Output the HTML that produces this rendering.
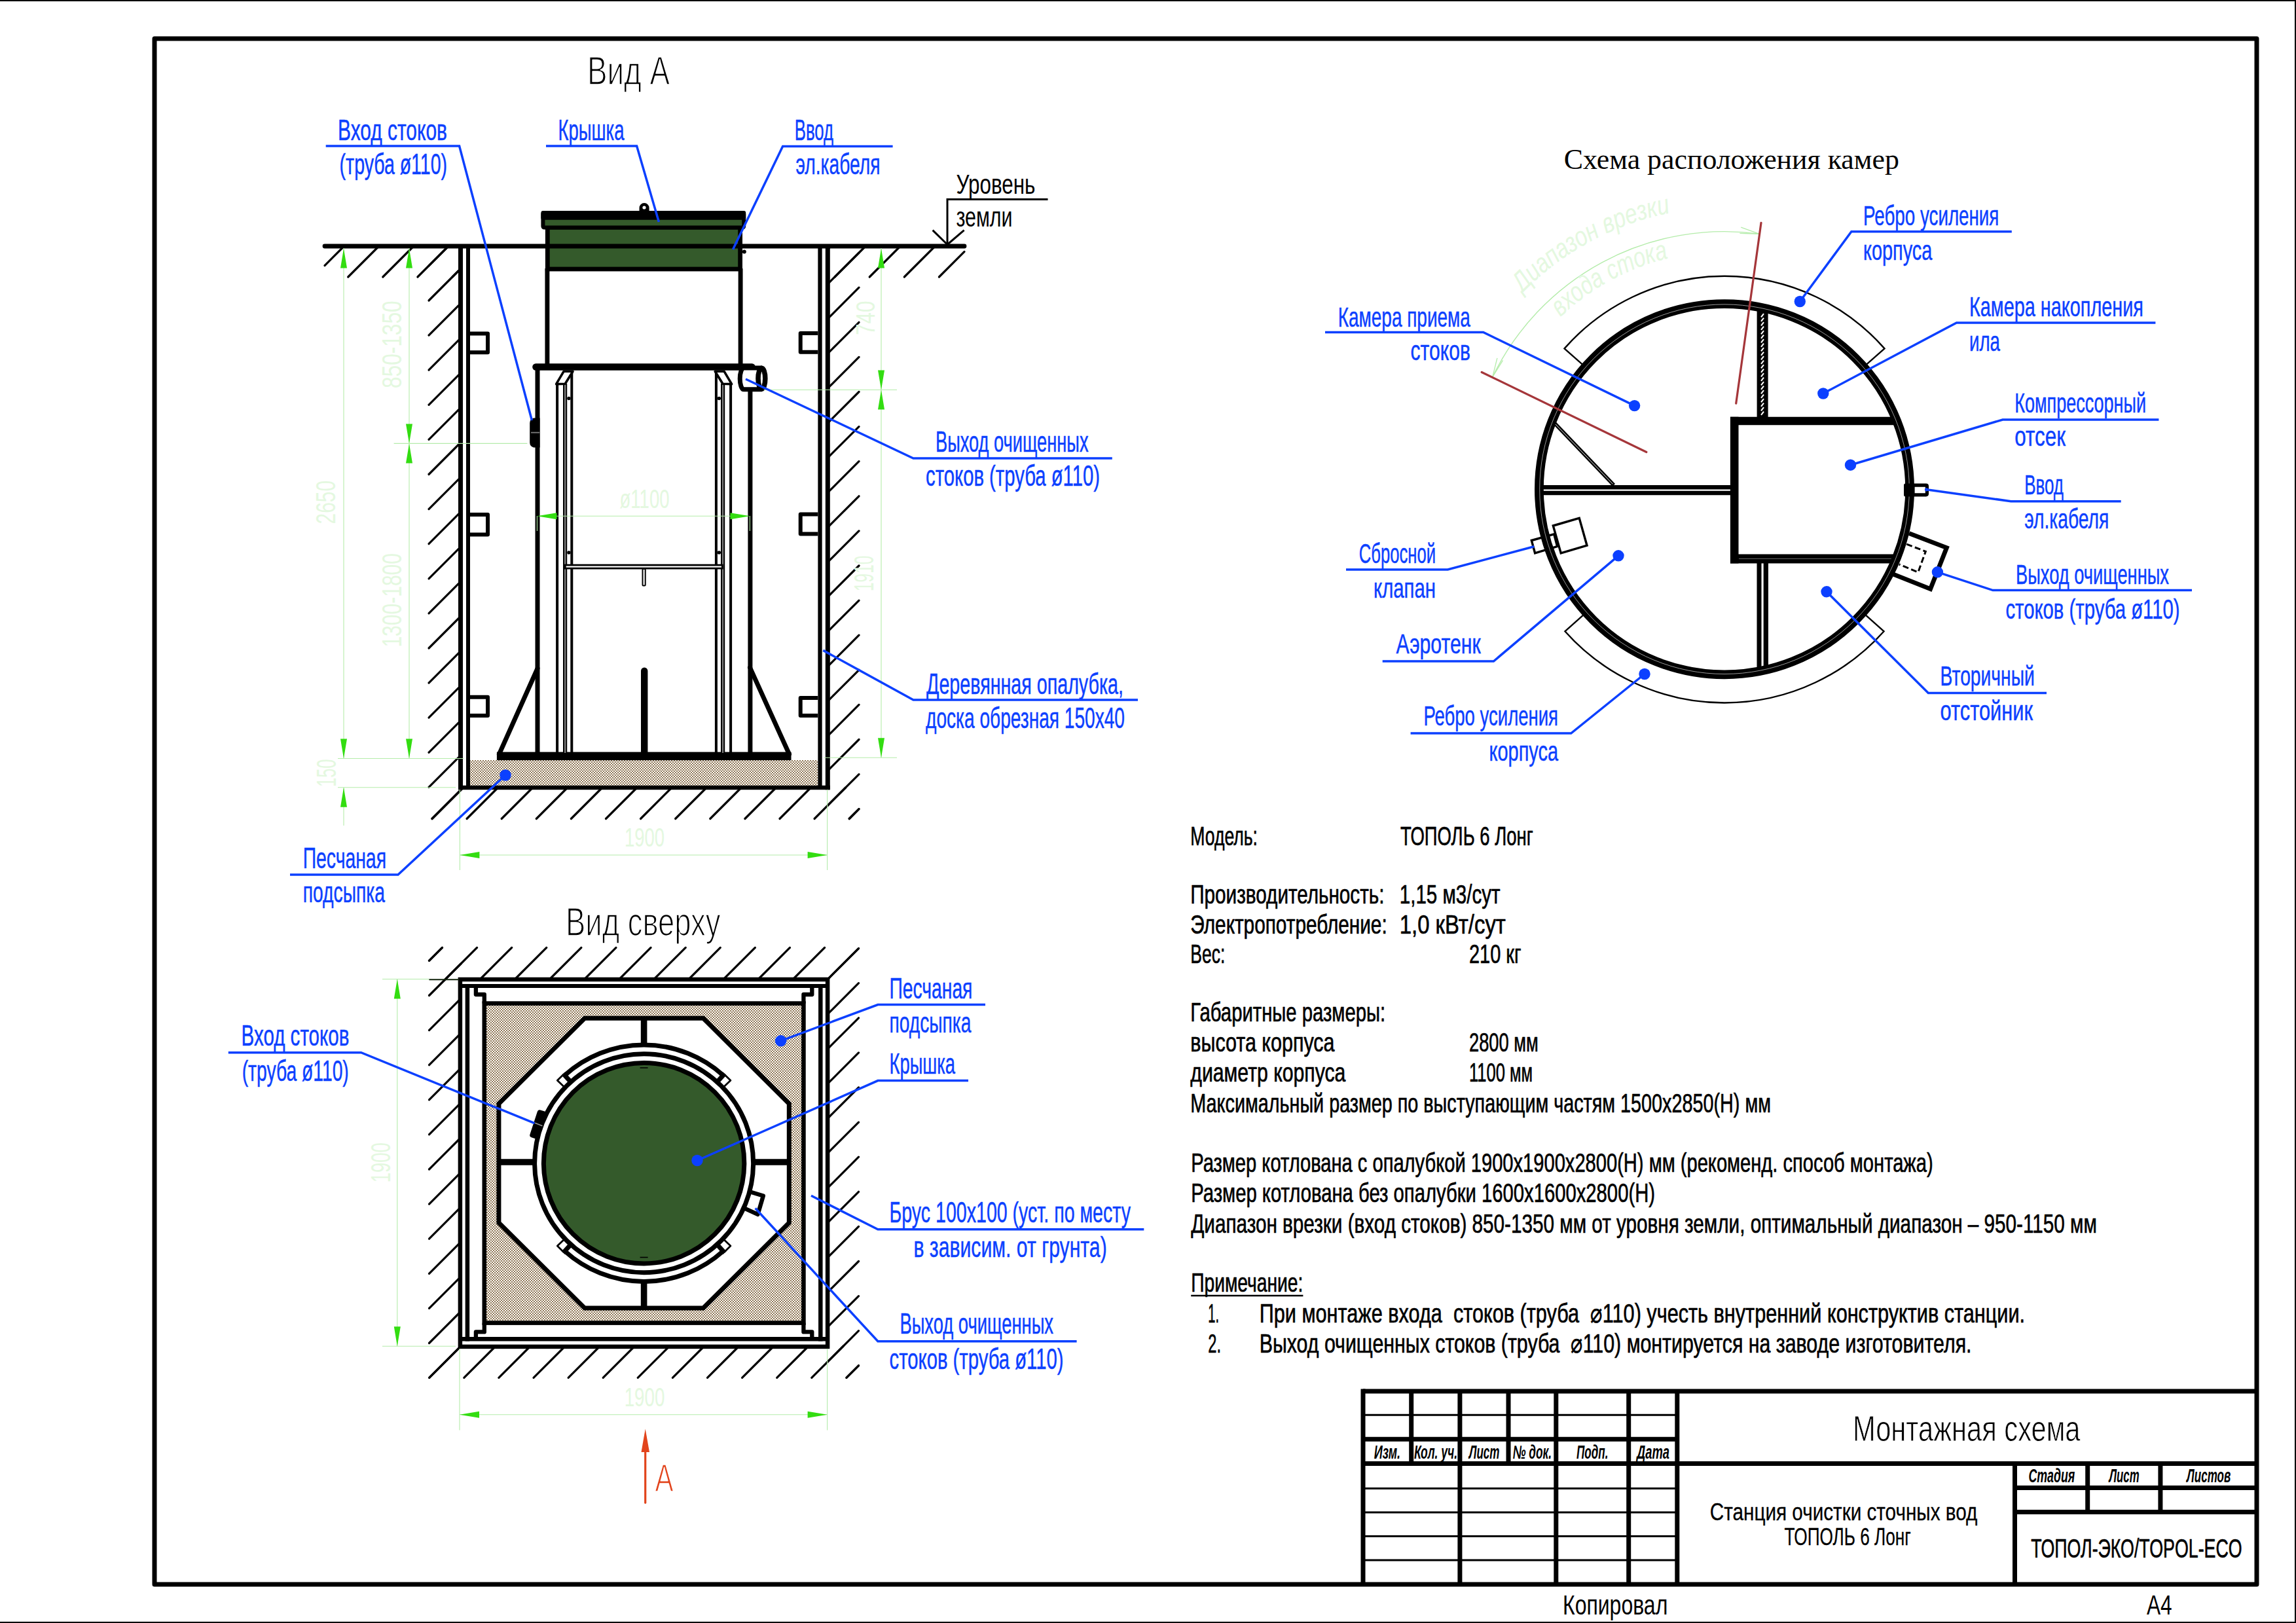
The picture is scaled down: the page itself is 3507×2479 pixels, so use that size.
<!DOCTYPE html>
<html><head><meta charset="utf-8"><title>Монтажная схема</title>
<style>
html,body{margin:0;padding:0;background:#fff;}
body{width:3507px;height:2479px;overflow:hidden;font-family:"Liberation Sans",sans-serif;}
svg{display:block;}
text{white-space:pre;}
</style></head><body>
<svg width="3507" height="2479" viewBox="0 0 3507 2479">
<defs>
<pattern id="sand" width="4" height="4" patternUnits="userSpaceOnUse">
<rect width="4" height="4" fill="#fff"/>
<circle cx="0" cy="0" r="1.1" fill="#77592f"/><circle cx="4" cy="0" r="1.1" fill="#77592f"/><circle cx="0" cy="4" r="1.1" fill="#77592f"/><circle cx="4" cy="4" r="1.1" fill="#77592f"/><circle cx="2" cy="2" r="1.1" fill="#77592f"/>
</pattern>
</defs>
<rect x="-5.0" y="0.0" width="3512.0" height="2.0" stroke="none" stroke-width="0" fill="#000" />
<rect x="3505.0" y="0.0" width="2.0" height="2479.0" stroke="none" stroke-width="0" fill="#000" />
<rect x="-5.0" y="2477.0" width="3512.0" height="2.0" stroke="none" stroke-width="0" fill="#000" />
<rect x="236.0" y="59.0" width="3211.0" height="2361.0" stroke="#000" stroke-width="7" fill="none" stroke-linejoin="round"/>
<line x1="2082.0" y1="2125.0" x2="3447.0" y2="2125.0" stroke="#000" stroke-width="7" stroke-linecap="butt" />
<line x1="2082.0" y1="2121.5" x2="2082.0" y2="2420.0" stroke="#000" stroke-width="7" stroke-linecap="butt" />
<line x1="2155.7" y1="2125.0" x2="2155.7" y2="2238.9" stroke="#000" stroke-width="7" stroke-linecap="butt" />
<line x1="2229.9" y1="2125.0" x2="2229.9" y2="2420.0" stroke="#000" stroke-width="7" stroke-linecap="butt" />
<line x1="2304.0" y1="2125.0" x2="2304.0" y2="2238.9" stroke="#000" stroke-width="7" stroke-linecap="butt" />
<line x1="2376.8" y1="2125.0" x2="2376.8" y2="2420.0" stroke="#000" stroke-width="7" stroke-linecap="butt" />
<line x1="2487.7" y1="2125.0" x2="2487.7" y2="2420.0" stroke="#000" stroke-width="7" stroke-linecap="butt" />
<line x1="2561.8" y1="2125.0" x2="2561.8" y2="2420.0" stroke="#000" stroke-width="7" stroke-linecap="butt" />
<line x1="2082.0" y1="2161.2" x2="2561.8" y2="2161.2" stroke="#000" stroke-width="3" stroke-linecap="butt" />
<line x1="2082.0" y1="2198.3" x2="2561.8" y2="2198.3" stroke="#000" stroke-width="7" stroke-linecap="butt" />
<line x1="2082.0" y1="2235.4" x2="3447.0" y2="2235.4" stroke="#000" stroke-width="7" stroke-linecap="butt" />
<line x1="2082.0" y1="2273.4" x2="2561.8" y2="2273.4" stroke="#000" stroke-width="3" stroke-linecap="butt" />
<line x1="2082.0" y1="2310.1" x2="2561.8" y2="2310.1" stroke="#000" stroke-width="3" stroke-linecap="butt" />
<line x1="2082.0" y1="2346.6" x2="2561.8" y2="2346.6" stroke="#000" stroke-width="3" stroke-linecap="butt" />
<line x1="2082.0" y1="2383.0" x2="2561.8" y2="2383.0" stroke="#000" stroke-width="3" stroke-linecap="butt" />
<line x1="3077.5" y1="2235.4" x2="3077.5" y2="2420.0" stroke="#000" stroke-width="7" stroke-linecap="butt" />
<line x1="3077.5" y1="2272.4" x2="3447.0" y2="2272.4" stroke="#000" stroke-width="7" stroke-linecap="butt" />
<line x1="3077.5" y1="2309.5" x2="3447.0" y2="2309.5" stroke="#000" stroke-width="7" stroke-linecap="butt" />
<line x1="3188.7" y1="2235.4" x2="3188.7" y2="2309.5" stroke="#000" stroke-width="7" stroke-linecap="butt" />
<line x1="3299.9" y1="2235.4" x2="3299.9" y2="2309.5" stroke="#000" stroke-width="7" stroke-linecap="butt" />
<text x="2098.7" y="2228.3" font-family="Liberation Sans" font-size="28.6" font-weight="bold" font-style="italic" fill="#000" textLength="40.3" lengthAdjust="spacingAndGlyphs" >Изм.</text>
<text x="2160.0" y="2228.3" font-family="Liberation Sans" font-size="28.6" font-weight="bold" font-style="italic" fill="#000" textLength="66.0" lengthAdjust="spacingAndGlyphs" >Кол. уч.</text>
<text x="2243.7" y="2228.3" font-family="Liberation Sans" font-size="28.6" font-weight="bold" font-style="italic" fill="#000" textLength="46.7" lengthAdjust="spacingAndGlyphs" >Лист</text>
<text x="2310.7" y="2228.3" font-family="Liberation Sans" font-size="28.6" font-weight="bold" font-style="italic" fill="#000" textLength="59.3" lengthAdjust="spacingAndGlyphs" >№ док.</text>
<text x="2408.0" y="2228.3" font-family="Liberation Sans" font-size="28.6" font-weight="bold" font-style="italic" fill="#000" textLength="48.4" lengthAdjust="spacingAndGlyphs" >Подп.</text>
<text x="2500.0" y="2228.3" font-family="Liberation Sans" font-size="28.6" font-weight="bold" font-style="italic" fill="#000" textLength="50.0" lengthAdjust="spacingAndGlyphs" >Дата</text>
<text x="3098.4" y="2264.4" font-family="Liberation Sans" font-size="28.6" font-weight="bold" font-style="italic" fill="#000" textLength="70.9" lengthAdjust="spacingAndGlyphs" >Стадия</text>
<text x="3221.5" y="2264.4" font-family="Liberation Sans" font-size="28.6" font-weight="bold" font-style="italic" fill="#000" textLength="46.1" lengthAdjust="spacingAndGlyphs" >Лист</text>
<text x="3340.1" y="2264.4" font-family="Liberation Sans" font-size="28.6" font-weight="bold" font-style="italic" fill="#000" textLength="67.1" lengthAdjust="spacingAndGlyphs" >Листов</text>
<text x="2830.0" y="2200.6" font-family="Liberation Sans" font-size="55.6" font-weight="normal" font-style="normal" fill="#000" stroke="#fff" stroke-width="0.9" stroke-linejoin="round" textLength="347.5" lengthAdjust="spacingAndGlyphs" >Монтажная схема</text>
<text x="2611.8" y="2322.4" font-family="Liberation Sans" font-size="36.3" font-weight="normal" font-style="normal" fill="#000" stroke="#000" stroke-width="0.3" stroke-linejoin="round" textLength="408.6" lengthAdjust="spacingAndGlyphs" >Станция очистки сточных вод</text>
<text x="2725.5" y="2360.4" font-family="Liberation Sans" font-size="36.3" font-weight="normal" font-style="normal" fill="#000" stroke="#000" stroke-width="0.3" stroke-linejoin="round" textLength="193.4" lengthAdjust="spacingAndGlyphs" >ТОПОЛЬ 6 Лонг</text>
<text x="3102.3" y="2378.8" font-family="Liberation Sans" font-size="40.5" font-weight="normal" font-style="normal" fill="#000" stroke="#000" stroke-width="0.7" stroke-linejoin="round" textLength="322.3" lengthAdjust="spacingAndGlyphs" >ТОПОЛ-ЭКО/TOPOL-ECO</text>
<text x="2387.0" y="2465.8" font-family="Liberation Sans" font-size="42.7" font-weight="normal" font-style="normal" fill="#000" textLength="160.3" lengthAdjust="spacingAndGlyphs" >Копировал</text>
<text x="3278.9" y="2465.8" font-family="Liberation Sans" font-size="42.7" font-weight="normal" font-style="normal" fill="#000" textLength="38.7" lengthAdjust="spacingAndGlyphs" >А4</text>
<text x="1818.3" y="1291.0" font-family="Liberation Sans" font-size="41.2" font-weight="normal" font-style="normal" fill="#000" stroke="#000" stroke-width="0.7" stroke-linejoin="round" textLength="102.7" lengthAdjust="spacingAndGlyphs" >Модель:</text>
<text x="2138.9" y="1291.0" font-family="Liberation Sans" font-size="41.2" font-weight="normal" font-style="normal" fill="#000" stroke="#000" stroke-width="0.7" stroke-linejoin="round" textLength="202.8" lengthAdjust="spacingAndGlyphs" >ТОПОЛЬ 6 Лонг</text>
<text x="1818.3" y="1379.8" font-family="Liberation Sans" font-size="41.2" font-weight="normal" font-style="normal" fill="#000" stroke="#000" stroke-width="0.7" stroke-linejoin="round" textLength="296.2" lengthAdjust="spacingAndGlyphs" >Производительность:</text>
<text x="2137.8" y="1379.8" font-family="Liberation Sans" font-size="41.2" font-weight="normal" font-style="normal" fill="#000" stroke="#000" stroke-width="0.7" stroke-linejoin="round" textLength="153.7" lengthAdjust="spacingAndGlyphs" >1,15 м3/сут</text>
<text x="1818.3" y="1425.8" font-family="Liberation Sans" font-size="41.2" font-weight="normal" font-style="normal" fill="#000" stroke="#000" stroke-width="0.7" stroke-linejoin="round" textLength="300.4" lengthAdjust="spacingAndGlyphs" >Электропотребление:</text>
<text x="2137.8" y="1425.8" font-family="Liberation Sans" font-size="41.2" font-weight="normal" font-style="normal" fill="#000" stroke="#000" stroke-width="0.7" stroke-linejoin="round" textLength="162.1" lengthAdjust="spacingAndGlyphs" >1,0 кВт/сут</text>
<text x="1818.3" y="1471.0" font-family="Liberation Sans" font-size="41.2" font-weight="normal" font-style="normal" fill="#000" stroke="#000" stroke-width="0.7" stroke-linejoin="round" textLength="53.0" lengthAdjust="spacingAndGlyphs" >Вес:</text>
<text x="2244.0" y="1471.0" font-family="Liberation Sans" font-size="41.2" font-weight="normal" font-style="normal" fill="#000" stroke="#000" stroke-width="0.7" stroke-linejoin="round" textLength="79.6" lengthAdjust="spacingAndGlyphs" >210 кг</text>
<text x="1818.3" y="1560.3" font-family="Liberation Sans" font-size="41.2" font-weight="normal" font-style="normal" fill="#000" stroke="#000" stroke-width="0.7" stroke-linejoin="round" textLength="297.9" lengthAdjust="spacingAndGlyphs" >Габаритные размеры:</text>
<text x="1818.3" y="1606.3" font-family="Liberation Sans" font-size="41.2" font-weight="normal" font-style="normal" fill="#000" stroke="#000" stroke-width="0.7" stroke-linejoin="round" textLength="220.2" lengthAdjust="spacingAndGlyphs" >высота корпуса</text>
<text x="2244.0" y="1606.3" font-family="Liberation Sans" font-size="41.2" font-weight="normal" font-style="normal" fill="#000" stroke="#000" stroke-width="0.7" stroke-linejoin="round" textLength="105.7" lengthAdjust="spacingAndGlyphs" >2800 мм</text>
<text x="1818.3" y="1651.6" font-family="Liberation Sans" font-size="41.2" font-weight="normal" font-style="normal" fill="#000" stroke="#000" stroke-width="0.7" stroke-linejoin="round" textLength="237.0" lengthAdjust="spacingAndGlyphs" >диаметр корпуса</text>
<text x="2244.0" y="1651.6" font-family="Liberation Sans" font-size="41.2" font-weight="normal" font-style="normal" fill="#000" stroke="#000" stroke-width="0.7" stroke-linejoin="round" textLength="97.0" lengthAdjust="spacingAndGlyphs" >1100 мм</text>
<text x="1818.3" y="1698.6" font-family="Liberation Sans" font-size="41.2" font-weight="normal" font-style="normal" fill="#000" stroke="#000" stroke-width="0.7" stroke-linejoin="round" textLength="886.7" lengthAdjust="spacingAndGlyphs" >Максимальный размер по выступающим частям 1500х2850(H) мм</text>
<text x="1819.2" y="1789.5" font-family="Liberation Sans" font-size="41.2" font-weight="normal" font-style="normal" fill="#000" stroke="#000" stroke-width="0.7" stroke-linejoin="round" textLength="1133.5" lengthAdjust="spacingAndGlyphs" >Размер котлована с опалубкой 1900х1900х2800(H) мм (рекоменд. способ монтажа)</text>
<text x="1819.2" y="1835.9" font-family="Liberation Sans" font-size="41.2" font-weight="normal" font-style="normal" fill="#000" stroke="#000" stroke-width="0.7" stroke-linejoin="round" textLength="708.8" lengthAdjust="spacingAndGlyphs" >Размер котлована без опалубки 1600х1600х2800(H)</text>
<text x="1819.2" y="1882.9" font-family="Liberation Sans" font-size="41.2" font-weight="normal" font-style="normal" fill="#000" stroke="#000" stroke-width="0.7" stroke-linejoin="round" textLength="1383.7" lengthAdjust="spacingAndGlyphs" >Диапазон врезки (вход стоков) 850-1350 мм от уровня земли, оптимальный диапазон – 950-1150 мм</text>
<text x="1819.2" y="1973.0" font-family="Liberation Sans" font-size="41.2" font-weight="normal" font-style="normal" fill="#000" stroke="#000" stroke-width="0.7" stroke-linejoin="round" textLength="171.2" lengthAdjust="spacingAndGlyphs" >Примечание:</text>
<line x1="1819.2" y1="1979.0" x2="1990.4" y2="1979.0" stroke="#000" stroke-width="2.5" stroke-linecap="butt" />
<text x="1845.3" y="2020.0" font-family="Liberation Sans" font-size="41.2" font-weight="normal" font-style="normal" fill="#000" stroke="#000" stroke-width="0.7" stroke-linejoin="round" textLength="16.7" lengthAdjust="spacingAndGlyphs" >1.</text>
<text x="1923.7" y="2020.0" font-family="Liberation Sans" font-size="41.2" font-weight="normal" font-style="normal" fill="#000" stroke="#000" stroke-width="0.7" stroke-linejoin="round" textLength="1169.4" lengthAdjust="spacingAndGlyphs" >При монтаже входа  стоков (труба  ⌀110) учесть внутренний конструктив станции.</text>
<text x="1845.3" y="2065.8" font-family="Liberation Sans" font-size="41.2" font-weight="normal" font-style="normal" fill="#000" stroke="#000" stroke-width="0.7" stroke-linejoin="round" textLength="19.7" lengthAdjust="spacingAndGlyphs" >2.</text>
<text x="1923.7" y="2065.8" font-family="Liberation Sans" font-size="41.2" font-weight="normal" font-style="normal" fill="#000" stroke="#000" stroke-width="0.7" stroke-linejoin="round" textLength="1087.8" lengthAdjust="spacingAndGlyphs" >Выход очищенных стоков (труба  ⌀110) монтируется на заводе изготовителя.</text>
<g stroke="#000" stroke-width="3.2" stroke-linecap="round">
<line x1="525.6" y1="376.0" x2="496.0" y2="405.6"/>
<line x1="578.7" y1="376.0" x2="531.7" y2="423.0"/>
<line x1="631.8" y1="376.0" x2="584.8" y2="423.0"/>
<line x1="684.9" y1="376.0" x2="637.9" y2="423.0"/>
<line x1="700.0" y1="414.0" x2="691.0" y2="423.0"/>
<line x1="684.9" y1="376.0" x2="655.0" y2="405.9"/>
<line x1="703.0" y1="411.0" x2="655.0" y2="459.0"/>
<line x1="703.0" y1="464.1" x2="655.0" y2="512.1"/>
<line x1="703.0" y1="517.2" x2="655.0" y2="565.2"/>
<line x1="703.0" y1="570.3" x2="655.0" y2="618.3"/>
<line x1="703.0" y1="623.4" x2="655.0" y2="671.4"/>
<line x1="703.0" y1="676.5" x2="655.0" y2="724.5"/>
<line x1="703.0" y1="729.6" x2="655.0" y2="777.6"/>
<line x1="703.0" y1="782.7" x2="655.0" y2="830.7"/>
<line x1="703.0" y1="835.8" x2="655.0" y2="883.8"/>
<line x1="703.0" y1="888.9" x2="655.0" y2="936.9"/>
<line x1="703.0" y1="942.0" x2="655.0" y2="990.0"/>
<line x1="703.0" y1="995.1" x2="655.0" y2="1043.1"/>
<line x1="703.0" y1="1048.2" x2="655.0" y2="1096.2"/>
<line x1="703.0" y1="1101.3" x2="655.0" y2="1149.3"/>
<line x1="703.0" y1="1154.4" x2="655.0" y2="1202.4"/>
<line x1="703.0" y1="1207.5" x2="660.0" y2="1250.5"/>
<line x1="707.5" y1="1203.0" x2="660.0" y2="1250.5"/>
<line x1="760.6" y1="1203.0" x2="713.1" y2="1250.5"/>
<line x1="813.7" y1="1203.0" x2="766.2" y2="1250.5"/>
<line x1="866.8" y1="1203.0" x2="819.3" y2="1250.5"/>
<line x1="919.9" y1="1203.0" x2="872.4" y2="1250.5"/>
<line x1="973.0" y1="1203.0" x2="925.5" y2="1250.5"/>
<line x1="1026.1" y1="1203.0" x2="978.6" y2="1250.5"/>
<line x1="1079.2" y1="1203.0" x2="1031.7" y2="1250.5"/>
<line x1="1132.3" y1="1203.0" x2="1084.8" y2="1250.5"/>
<line x1="1185.4" y1="1203.0" x2="1137.9" y2="1250.5"/>
<line x1="1238.5" y1="1203.0" x2="1191.0" y2="1250.5"/>
<line x1="1291.6" y1="1203.0" x2="1244.1" y2="1250.5"/>
<line x1="1312.0" y1="1235.7" x2="1297.2" y2="1250.5"/>
<line x1="1269.0" y1="376.0" x2="1264.0" y2="381.0"/>
<line x1="1312.0" y1="386.1" x2="1264.0" y2="434.1"/>
<line x1="1312.0" y1="439.2" x2="1264.0" y2="487.2"/>
<line x1="1312.0" y1="492.3" x2="1264.0" y2="540.3"/>
<line x1="1312.0" y1="545.4" x2="1264.0" y2="593.4"/>
<line x1="1312.0" y1="598.5" x2="1264.0" y2="646.5"/>
<line x1="1312.0" y1="651.6" x2="1264.0" y2="699.6"/>
<line x1="1312.0" y1="704.7" x2="1264.0" y2="752.7"/>
<line x1="1312.0" y1="757.8" x2="1264.0" y2="805.8"/>
<line x1="1312.0" y1="810.9" x2="1264.0" y2="858.9"/>
<line x1="1312.0" y1="864.0" x2="1264.0" y2="912.0"/>
<line x1="1312.0" y1="917.1" x2="1264.0" y2="965.1"/>
<line x1="1312.0" y1="970.2" x2="1264.0" y2="1018.2"/>
<line x1="1312.0" y1="1023.3" x2="1264.0" y2="1071.3"/>
<line x1="1312.0" y1="1076.4" x2="1264.0" y2="1124.4"/>
<line x1="1312.0" y1="1129.5" x2="1264.0" y2="1177.5"/>
<line x1="1312.0" y1="1182.6" x2="1264.0" y2="1230.6"/>
<line x1="1312.0" y1="1235.7" x2="1297.2" y2="1250.5"/>
<line x1="1322.1" y1="376.0" x2="1275.1" y2="423.0"/>
<line x1="1375.2" y1="376.0" x2="1328.2" y2="423.0"/>
<line x1="1428.3" y1="376.0" x2="1381.3" y2="423.0"/>
<line x1="1473.0" y1="384.4" x2="1434.4" y2="423.0"/>
</g>
<rect x="718.0" y="1161.0" width="531.3" height="38.9" stroke="none" stroke-width="0" fill="url(#sand)" />
<line x1="703.5" y1="378.0" x2="703.5" y2="1206.3" stroke="#000" stroke-width="7" stroke-linecap="butt" />
<line x1="715.0" y1="378.0" x2="715.0" y2="1200.0" stroke="#000" stroke-width="6" stroke-linecap="butt" />
<line x1="1252.5" y1="378.0" x2="1252.5" y2="1200.0" stroke="#000" stroke-width="6.3" stroke-linecap="butt" />
<line x1="1264.3" y1="378.0" x2="1264.3" y2="1206.3" stroke="#000" stroke-width="7" stroke-linecap="butt" />
<line x1="700.0" y1="1203.0" x2="1267.8" y2="1203.0" stroke="#000" stroke-width="6.6" stroke-linecap="butt" />
<path d="M718.0,509.4 L745.0,509.4 L745.0,538.3 L718.0,538.3" stroke="#000" stroke-width="6" fill="none" stroke-linejoin="round" stroke-linecap="butt" />
<path d="M718.0,786.0 L745.0,786.0 L745.0,816.6 L718.0,816.6" stroke="#000" stroke-width="6" fill="none" stroke-linejoin="round" stroke-linecap="butt" />
<path d="M718.0,1064.7 L745.0,1064.7 L745.0,1093.0 L718.0,1093.0" stroke="#000" stroke-width="6" fill="none" stroke-linejoin="round" stroke-linecap="butt" />
<path d="M1249.3,509.0 L1222.7,509.0 L1222.7,537.8 L1249.3,537.8" stroke="#000" stroke-width="6" fill="none" stroke-linejoin="round" stroke-linecap="butt" />
<path d="M1249.3,785.6 L1222.7,785.6 L1222.7,815.5 L1249.3,815.5" stroke="#000" stroke-width="6" fill="none" stroke-linejoin="round" stroke-linecap="butt" />
<path d="M1249.3,1066.0 L1222.7,1066.0 L1222.7,1093.0 L1249.3,1093.0" stroke="#000" stroke-width="6" fill="none" stroke-linejoin="round" stroke-linecap="butt" />
<rect x="758.9" y="1148.6" width="449.6" height="12.6" stroke="none" stroke-width="0" fill="#000" />
<line x1="821.0" y1="1021.0" x2="762.4" y2="1152.0" stroke="#000" stroke-width="7" stroke-linecap="round" />
<line x1="1145.5" y1="1019.6" x2="1205.5" y2="1152.0" stroke="#000" stroke-width="7" stroke-linecap="round" />
<line x1="821.0" y1="560.0" x2="821.0" y2="1150.0" stroke="#000" stroke-width="7.0" stroke-linecap="butt" />
<line x1="1145.9" y1="560.0" x2="1145.9" y2="1150.0" stroke="#000" stroke-width="7" stroke-linecap="butt" />
<line x1="818.4" y1="560.5" x2="1148.6" y2="560.5" stroke="#000" stroke-width="10.4" stroke-linecap="round" />
<line x1="835.9" y1="410.0" x2="835.9" y2="556.0" stroke="#000" stroke-width="6.9" stroke-linecap="butt" />
<line x1="1131.1" y1="410.0" x2="1131.1" y2="556.0" stroke="#000" stroke-width="6.9" stroke-linecap="butt" />
<line x1="851.1" y1="585.0" x2="851.1" y2="1150.0" stroke="#000" stroke-width="4" stroke-linecap="butt" />
<line x1="873.3" y1="568.0" x2="873.3" y2="1150.0" stroke="#000" stroke-width="4" stroke-linecap="butt" />
<rect x="860.0" y="586.0" width="6.2" height="564.0" stroke="none" stroke-width="0" fill="#000" />
<rect x="862.0" y="586.0" width="2.3" height="564.0" stroke="none" stroke-width="0" fill="#7d7d7d" />
<path d="M849.6,586.6 L861.0,567.3 L875.0,567.3 L863.2,586.2 Z" stroke="#000" stroke-width="3.6" fill="#fff" stroke-linejoin="round" stroke-linecap="butt" />
<circle cx="868.9" cy="608.5" r="2.7" stroke="none" stroke-width="0" fill="#000" />
<circle cx="868.9" cy="844.0" r="2.7" stroke="none" stroke-width="0" fill="#000" />
<line x1="1116.1" y1="585.0" x2="1116.1" y2="1150.0" stroke="#000" stroke-width="4" stroke-linecap="butt" />
<line x1="1093.9" y1="568.0" x2="1093.9" y2="1150.0" stroke="#000" stroke-width="4" stroke-linecap="butt" />
<rect x="1101.0" y="586.0" width="6.2" height="564.0" stroke="none" stroke-width="0" fill="#000" />
<rect x="1102.9" y="586.0" width="2.3" height="564.0" stroke="none" stroke-width="0" fill="#7d7d7d" />
<path d="M1117.6,586.6 L1106.2,567.3 L1092.2,567.3 L1104.0,586.2 Z" stroke="#000" stroke-width="3.6" fill="#fff" stroke-linejoin="round" stroke-linecap="butt" />
<circle cx="1098.3" cy="608.5" r="2.7" stroke="none" stroke-width="0" fill="#000" />
<circle cx="1098.3" cy="844.0" r="2.7" stroke="none" stroke-width="0" fill="#000" />
<rect x="863.3" y="863.1" width="240.0" height="5.0" stroke="#000" stroke-width="2.8" fill="#fff" />
<rect x="981.5" y="869.0" width="4.2" height="25.4" stroke="#000" stroke-width="2.0" fill="#fff" rx="1"/>
<line x1="984.2" y1="1024.8" x2="984.2" y2="1150.0" stroke="#000" stroke-width="10.4" stroke-linecap="round" />
<path d="M815,638.6 L824.6,638.6 L824.6,683.4 L815,683.4 Q809.2,681.5 809.2,676 L809.2,646 Q809.2,640.5 815,638.6 Z" fill="#000"/>
<line x1="811.0" y1="660.7" x2="824.3" y2="660.7" stroke="#777" stroke-width="1.9" stroke-linecap="butt" />
<path d="M1136,559 L1164,559 L1164,598 L1136,598 A9.3,19.5 0 0 1 1136,559 Z" fill="#fff"/>
<path d="M1164,562 L1136,562 A5.8,16.4 0 0 0 1136,594.8 L1164,594.8" fill="none" stroke="#000" stroke-width="7"/>
<ellipse cx="1163.4" cy="578.2" rx="5.4" ry="16.0" fill="#fff" stroke="#000" stroke-width="7.6"/>
<rect x="836.3" y="347.2" width="294.3" height="63.8" stroke="#000" stroke-width="6.8" fill="#345a2b" />
<rect x="829.4" y="325.1" width="306.8" height="22.5" rx="2" fill="#345a2b" stroke="#000" stroke-width="6"/>
<rect x="826.4" y="322.1" width="312.8" height="13.7" stroke="none" stroke-width="0" fill="#000" rx="3"/>
<path d="M976.5,323 L976.5,317.5 A7.55,7.55 0 0 1 991.6,317.5 L991.6,323 Z" fill="#000"/>
<circle cx="984.0" cy="317.0" r="2.6" stroke="none" stroke-width="0" fill="#fff" />
<circle cx="1136.8" cy="384.6" r="3.0" stroke="none" stroke-width="0" fill="#000" />
<line x1="496.0" y1="376.0" x2="1473.0" y2="376.0" stroke="#000" stroke-width="6.8" stroke-linecap="round" />
<path d="M1600.5,304.5 L1447.0,304.5 L1447.0,373.0" stroke="#000" stroke-width="3" fill="none" stroke-linejoin="miter" stroke-linecap="butt" />
<line x1="1424.6" y1="351.6" x2="1447.0" y2="373.5" stroke="#000" stroke-width="3" stroke-linecap="butt" />
<line x1="1472.6" y1="351.6" x2="1447.0" y2="373.5" stroke="#000" stroke-width="3" stroke-linecap="butt" />
<text x="1460.5" y="295.8" font-family="Liberation Sans" font-size="43.3" font-weight="normal" font-style="normal" fill="#000" textLength="120.9" lengthAdjust="spacingAndGlyphs" >Уровень</text>
<text x="1460.5" y="345.6" font-family="Liberation Sans" font-size="43.3" font-weight="normal" font-style="normal" fill="#000" textLength="86.0" lengthAdjust="spacingAndGlyphs" >земли</text>
<line x1="525.0" y1="379.0" x2="525.0" y2="1158.5" stroke="#b4ecaa" stroke-width="1.1" stroke-linecap="butt" />
<line x1="525.0" y1="1202.8" x2="525.0" y2="1261.0" stroke="#b4ecaa" stroke-width="1.1" stroke-linecap="butt" />
<line x1="625.0" y1="379.0" x2="625.0" y2="1158.5" stroke="#b4ecaa" stroke-width="1.1" stroke-linecap="butt" />
<path d="M525.0,379.5 L530.0,409.5 L520.0,409.5 Z" fill="#33dd11"/>
<path d="M625.0,379.5 L630.0,409.5 L620.0,409.5 Z" fill="#33dd11"/>
<path d="M525.0,1158.5 L520.0,1128.5 L530.0,1128.5 Z" fill="#33dd11"/>
<path d="M625.0,1158.5 L620.0,1128.5 L630.0,1128.5 Z" fill="#33dd11"/>
<path d="M525.0,1202.8 L530.0,1232.8 L520.0,1232.8 Z" fill="#33dd11"/>
<path d="M625.0,677.4 L620.0,647.4 L630.0,647.4 Z" fill="#33dd11"/>
<path d="M625.0,677.4 L630.0,707.4 L620.0,707.4 Z" fill="#33dd11"/>
<line x1="601.6" y1="677.4" x2="805.4" y2="677.4" stroke="#b4ecaa" stroke-width="1.1" stroke-linecap="butt" />
<line x1="516.0" y1="1158.5" x2="708.0" y2="1158.5" stroke="#b4ecaa" stroke-width="1.1" stroke-linecap="butt" />
<line x1="516.0" y1="1202.8" x2="696.0" y2="1202.8" stroke="#b4ecaa" stroke-width="1.1" stroke-linecap="butt" />
<text transform="translate(512.0,800.4) rotate(-90)" x="0" y="0" font-family="Liberation Sans" font-size="43.3" fill="#e4f8e0" textLength="66.4" lengthAdjust="spacingAndGlyphs">2650</text>
<text transform="translate(613.0,593.0) rotate(-90)" x="0" y="0" font-family="Liberation Sans" font-size="43.3" fill="#e4f8e0" textLength="133.6" lengthAdjust="spacingAndGlyphs">850-1350</text>
<text transform="translate(613.0,988.6) rotate(-90)" x="0" y="0" font-family="Liberation Sans" font-size="43.3" fill="#e4f8e0" textLength="143.6" lengthAdjust="spacingAndGlyphs">1300-1800</text>
<text transform="translate(513.0,1202.0) rotate(-90)" x="0" y="0" font-family="Liberation Sans" font-size="43.3" fill="#e4f8e0" textLength="42.4" lengthAdjust="spacingAndGlyphs">150</text>
<line x1="824.6" y1="788.2" x2="1142.0" y2="788.2" stroke="#b4ecaa" stroke-width="1.1" stroke-linecap="butt" />
<line x1="820.4" y1="788.0" x2="820.4" y2="811.0" stroke="#b4ecaa" stroke-width="1.1" stroke-linecap="butt" />
<line x1="1145.4" y1="788.0" x2="1145.4" y2="811.0" stroke="#b4ecaa" stroke-width="1.1" stroke-linecap="butt" />
<path d="M820.4,788.2 L850.4,783.2 L850.4,793.2 Z" fill="#33dd11"/>
<path d="M1145.4,788.2 L1115.4,793.2 L1115.4,783.2 Z" fill="#33dd11"/>
<text x="946.5" y="776.0" font-family="Liberation Sans" font-size="40.5" font-weight="normal" font-style="normal" fill="#e4f8e0" textLength="76.0" lengthAdjust="spacingAndGlyphs" >ø1100</text>
<line x1="702.4" y1="1206.0" x2="702.4" y2="1329.0" stroke="#b4ecaa" stroke-width="1.1" stroke-linecap="butt" />
<line x1="1263.6" y1="1206.0" x2="1263.6" y2="1329.0" stroke="#b4ecaa" stroke-width="1.1" stroke-linecap="butt" />
<line x1="702.4" y1="1306.0" x2="1263.6" y2="1306.0" stroke="#b4ecaa" stroke-width="1.1" stroke-linecap="butt" />
<path d="M702.4,1306.0 L732.4,1301.0 L732.4,1311.0 Z" fill="#33dd11"/>
<path d="M1263.6,1306.0 L1233.6,1311.0 L1233.6,1301.0 Z" fill="#33dd11"/>
<text x="954.0" y="1292.7" font-family="Liberation Sans" font-size="41.2" font-weight="normal" font-style="normal" fill="#e4f8e0" textLength="61.0" lengthAdjust="spacingAndGlyphs" >1900</text>
<line x1="1346.0" y1="379.0" x2="1346.0" y2="1157.2" stroke="#b4ecaa" stroke-width="1.1" stroke-linecap="butt" />
<path d="M1346.0,379.5 L1351.0,409.5 L1341.0,409.5 Z" fill="#33dd11"/>
<path d="M1346.0,595.5 L1341.0,565.5 L1351.0,565.5 Z" fill="#33dd11"/>
<path d="M1346.0,595.5 L1351.0,625.5 L1341.0,625.5 Z" fill="#33dd11"/>
<path d="M1346.0,1157.2 L1341.0,1127.2 L1351.0,1127.2 Z" fill="#33dd11"/>
<line x1="1166.7" y1="595.5" x2="1370.0" y2="595.5" stroke="#b4ecaa" stroke-width="1.1" stroke-linecap="butt" />
<line x1="1259.0" y1="1157.2" x2="1370.0" y2="1157.2" stroke="#b4ecaa" stroke-width="1.1" stroke-linecap="butt" />
<text transform="translate(1335.7,511.8) rotate(-90)" x="0" y="0" font-family="Liberation Sans" font-size="41.2" fill="#e4f8e0" textLength="52.2" lengthAdjust="spacingAndGlyphs">740</text>
<text transform="translate(1334.0,902.9) rotate(-90)" x="0" y="0" font-family="Liberation Sans" font-size="43.3" fill="#e4f8e0" textLength="54.1" lengthAdjust="spacingAndGlyphs">1910</text>
<text x="897.0" y="128.6" font-family="Liberation Sans" font-size="60.8" font-weight="normal" font-style="normal" fill="#000" stroke="#fff" stroke-width="1.7" stroke-linejoin="round" textLength="126.0" lengthAdjust="spacingAndGlyphs" >Вид А</text>
<path d="M497.7,223.0 L701.6,223.0 L812.4,642.0" stroke="#0c40ff" stroke-width="3.5" fill="none" stroke-linejoin="miter" stroke-linecap="butt" />
<text x="516.0" y="213.8" font-family="Liberation Sans" font-size="44.7" font-weight="normal" font-style="normal" fill="#0c40ff" stroke="#0c40ff" stroke-width="0.5" stroke-linejoin="round" textLength="167.0" lengthAdjust="spacingAndGlyphs" >Вход стоков</text>
<text x="518.6" y="266.0" font-family="Liberation Sans" font-size="44.7" font-weight="normal" font-style="normal" fill="#0c40ff" stroke="#0c40ff" stroke-width="0.5" stroke-linejoin="round" textLength="164.4" lengthAdjust="spacingAndGlyphs" >(труба ø110)</text>
<path d="M834.0,223.0 L972.6,223.0 L1006.4,339.0" stroke="#0c40ff" stroke-width="3.5" fill="none" stroke-linejoin="miter" stroke-linecap="butt" />
<text x="852.4" y="213.8" font-family="Liberation Sans" font-size="44.7" font-weight="normal" font-style="normal" fill="#0c40ff" stroke="#0c40ff" stroke-width="0.5" stroke-linejoin="round" textLength="101.1" lengthAdjust="spacingAndGlyphs" >Крышка</text>
<path d="M1363.6,223.5 L1195.6,223.5 L1119.5,381.0" stroke="#0c40ff" stroke-width="3.5" fill="none" stroke-linejoin="miter" stroke-linecap="butt" />
<text x="1213.8" y="213.8" font-family="Liberation Sans" font-size="44.7" font-weight="normal" font-style="normal" fill="#0c40ff" stroke="#0c40ff" stroke-width="0.5" stroke-linejoin="round" textLength="59.2" lengthAdjust="spacingAndGlyphs" >Ввод</text>
<text x="1215.5" y="266.0" font-family="Liberation Sans" font-size="44.7" font-weight="normal" font-style="normal" fill="#0c40ff" stroke="#0c40ff" stroke-width="0.5" stroke-linejoin="round" textLength="128.9" lengthAdjust="spacingAndGlyphs" >эл.кабеля</text>
<path d="M1139.0,579.0 L1395.0,700.0 L1698.8,700.0" stroke="#0c40ff" stroke-width="3.5" fill="none" stroke-linejoin="miter" stroke-linecap="butt" />
<text x="1429.0" y="689.5" font-family="Liberation Sans" font-size="44.7" font-weight="normal" font-style="normal" fill="#0c40ff" stroke="#0c40ff" stroke-width="0.5" stroke-linejoin="round" textLength="233.5" lengthAdjust="spacingAndGlyphs" >Выход очищенных</text>
<text x="1414.0" y="741.8" font-family="Liberation Sans" font-size="44.7" font-weight="normal" font-style="normal" fill="#0c40ff" stroke="#0c40ff" stroke-width="0.5" stroke-linejoin="round" textLength="266.0" lengthAdjust="spacingAndGlyphs" >стоков (труба ø110)</text>
<path d="M1257.3,993.4 L1395.0,1069.0 L1738.0,1069.0" stroke="#0c40ff" stroke-width="3.5" fill="none" stroke-linejoin="miter" stroke-linecap="butt" />
<text x="1415.0" y="1059.6" font-family="Liberation Sans" font-size="44.7" font-weight="normal" font-style="normal" fill="#0c40ff" stroke="#0c40ff" stroke-width="0.5" stroke-linejoin="round" textLength="301.0" lengthAdjust="spacingAndGlyphs" >Деревянная опалубка,</text>
<text x="1414.0" y="1112.0" font-family="Liberation Sans" font-size="44.7" font-weight="normal" font-style="normal" fill="#0c40ff" stroke="#0c40ff" stroke-width="0.5" stroke-linejoin="round" textLength="304.0" lengthAdjust="spacingAndGlyphs" >доска обрезная 150х40</text>
<circle cx="772.0" cy="1184.0" r="8.7" stroke="none" stroke-width="0" fill="#0c40ff" />
<path d="M772.0,1184.0 L608.0,1336.0 L443.0,1336.0" stroke="#0c40ff" stroke-width="3.5" fill="none" stroke-linejoin="miter" stroke-linecap="butt" />
<text x="462.7" y="1325.8" font-family="Liberation Sans" font-size="44.7" font-weight="normal" font-style="normal" fill="#0c40ff" stroke="#0c40ff" stroke-width="0.5" stroke-linejoin="round" textLength="127.3" lengthAdjust="spacingAndGlyphs" >Песчаная</text>
<text x="462.7" y="1378.0" font-family="Liberation Sans" font-size="44.7" font-weight="normal" font-style="normal" fill="#0c40ff" stroke="#0c40ff" stroke-width="0.5" stroke-linejoin="round" textLength="125.3" lengthAdjust="spacingAndGlyphs" >подсыпка</text>
<g stroke="#000" stroke-width="3.2" stroke-linecap="round">
<line x1="675.5" y1="1447.4" x2="655.5" y2="1467.4"/>
<line x1="728.6" y1="1447.4" x2="679.0" y2="1497.0"/>
<line x1="781.7" y1="1447.4" x2="732.1" y2="1497.0"/>
<line x1="834.8" y1="1447.4" x2="785.2" y2="1497.0"/>
<line x1="887.9" y1="1447.4" x2="838.3" y2="1497.0"/>
<line x1="941.0" y1="1447.4" x2="891.4" y2="1497.0"/>
<line x1="994.1" y1="1447.4" x2="944.5" y2="1497.0"/>
<line x1="1047.2" y1="1447.4" x2="997.6" y2="1497.0"/>
<line x1="1100.3" y1="1447.4" x2="1050.7" y2="1497.0"/>
<line x1="1153.4" y1="1447.4" x2="1103.8" y2="1497.0"/>
<line x1="1206.5" y1="1447.4" x2="1156.9" y2="1497.0"/>
<line x1="1259.6" y1="1447.4" x2="1210.0" y2="1497.0"/>
<line x1="1311.5" y1="1448.6" x2="1263.1" y2="1497.0"/>
<line x1="704.1" y1="2056.0" x2="655.7" y2="2104.4"/>
<line x1="757.2" y1="2056.0" x2="708.8" y2="2104.4"/>
<line x1="810.3" y1="2056.0" x2="761.9" y2="2104.4"/>
<line x1="863.4" y1="2056.0" x2="815.0" y2="2104.4"/>
<line x1="916.5" y1="2056.0" x2="868.1" y2="2104.4"/>
<line x1="969.6" y1="2056.0" x2="921.2" y2="2104.4"/>
<line x1="1022.7" y1="2056.0" x2="974.3" y2="2104.4"/>
<line x1="1075.8" y1="2056.0" x2="1027.4" y2="2104.4"/>
<line x1="1128.9" y1="2056.0" x2="1080.5" y2="2104.4"/>
<line x1="1182.0" y1="2056.0" x2="1133.6" y2="2104.4"/>
<line x1="1235.1" y1="2056.0" x2="1186.7" y2="2104.4"/>
<line x1="1288.2" y1="2056.0" x2="1239.8" y2="2104.4"/>
<line x1="1311.5" y1="2085.8" x2="1292.9" y2="2104.4"/>
<line x1="675.5" y1="1447.4" x2="655.5" y2="1467.4"/>
<line x1="704.0" y1="1472.0" x2="655.5" y2="1520.5"/>
<line x1="704.0" y1="1525.1" x2="655.5" y2="1573.6"/>
<line x1="704.0" y1="1578.2" x2="655.5" y2="1626.7"/>
<line x1="704.0" y1="1631.3" x2="655.5" y2="1679.8"/>
<line x1="704.0" y1="1684.4" x2="655.5" y2="1732.9"/>
<line x1="704.0" y1="1737.5" x2="655.5" y2="1786.0"/>
<line x1="704.0" y1="1790.6" x2="655.5" y2="1839.1"/>
<line x1="704.0" y1="1843.7" x2="655.5" y2="1892.2"/>
<line x1="704.0" y1="1896.8" x2="655.5" y2="1945.3"/>
<line x1="704.0" y1="1949.9" x2="655.5" y2="1998.4"/>
<line x1="704.0" y1="2003.0" x2="655.5" y2="2051.5"/>
<line x1="704.0" y1="2056.1" x2="655.7" y2="2104.4"/>
<line x1="1311.5" y1="1448.6" x2="1263.0" y2="1497.1"/>
<line x1="1311.5" y1="1501.7" x2="1263.0" y2="1550.2"/>
<line x1="1311.5" y1="1554.8" x2="1263.0" y2="1603.3"/>
<line x1="1311.5" y1="1607.9" x2="1263.0" y2="1656.4"/>
<line x1="1311.5" y1="1661.0" x2="1263.0" y2="1709.5"/>
<line x1="1311.5" y1="1714.1" x2="1263.0" y2="1762.6"/>
<line x1="1311.5" y1="1767.2" x2="1263.0" y2="1815.7"/>
<line x1="1311.5" y1="1820.3" x2="1263.0" y2="1868.8"/>
<line x1="1311.5" y1="1873.4" x2="1263.0" y2="1921.9"/>
<line x1="1311.5" y1="1926.5" x2="1263.0" y2="1975.0"/>
<line x1="1311.5" y1="1979.6" x2="1263.0" y2="2028.1"/>
<line x1="1311.5" y1="2032.7" x2="1263.0" y2="2081.2"/>
<line x1="1311.5" y1="2085.8" x2="1292.9" y2="2104.4"/>
</g>
<rect x="702.9" y="1496.0" width="561.2" height="560.9" stroke="#000" stroke-width="6.5" fill="#fff" />
<line x1="703.0" y1="1506.0" x2="1264.0" y2="1506.0" stroke="#000" stroke-width="6.0" stroke-linecap="butt" />
<line x1="703.0" y1="2045.3" x2="1264.0" y2="2045.3" stroke="#000" stroke-width="6.4" stroke-linecap="butt" />
<line x1="713.9" y1="1503.0" x2="713.9" y2="2048.5" stroke="#000" stroke-width="6.5" stroke-linecap="butt" />
<line x1="1253.3" y1="1503.0" x2="1253.3" y2="2048.5" stroke="#000" stroke-width="6.5" stroke-linecap="butt" />
<rect x="739.8" y="1532.6" width="487.6" height="488.0" stroke="#000" stroke-width="6.6" fill="url(#sand)" />
<path d="M726.9,1506.2 L726.9,1519.0 L739.8,1519.0 L739.8,1532.8" stroke="#000" stroke-width="6.3" fill="none" stroke-linejoin="round" stroke-linecap="butt" />
<path d="M726.9,2047.2 L726.9,2034.4 L739.8,2034.4 L739.8,2020.6" stroke="#000" stroke-width="6.3" fill="none" stroke-linejoin="round" stroke-linecap="butt" />
<path d="M1240.3,1506.2 L1240.3,1519.0 L1227.4,1519.0 L1227.4,1532.8" stroke="#000" stroke-width="6.3" fill="none" stroke-linejoin="round" stroke-linecap="butt" />
<path d="M1240.3,2047.2 L1240.3,2034.4 L1227.4,2034.4 L1227.4,2020.6" stroke="#000" stroke-width="6.3" fill="none" stroke-linejoin="round" stroke-linecap="butt" />
<path d="M893.0,1555.3 L1074.2,1555.3 L1205.3,1685.7 L1205.3,1867.7 L1074.2,1998.1 L893.0,1998.1 L761.9,1867.7 L761.9,1685.7 Z" stroke="#000" stroke-width="7" fill="#fff" stroke-linejoin="miter" stroke-linecap="butt" />
<line x1="983.6" y1="1555.3" x2="983.6" y2="1598.7" stroke="#000" stroke-width="9.6" stroke-linecap="butt" />
<line x1="983.6" y1="1998.1" x2="983.6" y2="1954.7" stroke="#000" stroke-width="9.6" stroke-linecap="butt" />
<line x1="761.9" y1="1775.0" x2="818.6" y2="1775.0" stroke="#000" stroke-width="9.6" stroke-linecap="butt" />
<line x1="1205.3" y1="1775.0" x2="1148.6" y2="1775.0" stroke="#000" stroke-width="9.6" stroke-linecap="butt" />
<path d="M1104.5,1642.4 A180.7,180.7 0 0 0 862.7,1642.4" fill="none" stroke="#000" stroke-width="7"/>
<path d="M1096.0,1651.9 L1105.1,1660.6 L1115.9,1650.3 L1106.1,1640.7" stroke="#000" stroke-width="2.8" fill="#fff" stroke-linejoin="round" stroke-linecap="butt" />
<line x1="1094.0" y1="1654.1" x2="1106.9" y2="1639.8" stroke="#000" stroke-width="7" stroke-linecap="butt" />
<path d="M871.2,1651.9 L862.1,1660.6 L851.3,1650.3 L861.1,1640.7" stroke="#000" stroke-width="2.8" fill="#fff" stroke-linejoin="round" stroke-linecap="butt" />
<line x1="873.2" y1="1654.1" x2="860.3" y2="1639.8" stroke="#000" stroke-width="7" stroke-linecap="butt" />
<path d="M1104.5,1911.0 A180.7,180.7 0 0 1 862.7,1911.0" fill="none" stroke="#000" stroke-width="7"/>
<path d="M1096.0,1901.5 L1105.1,1892.8 L1115.9,1903.1 L1106.1,1912.7" stroke="#000" stroke-width="2.8" fill="#fff" stroke-linejoin="round" stroke-linecap="butt" />
<line x1="1094.0" y1="1899.3" x2="1106.9" y2="1913.6" stroke="#000" stroke-width="7" stroke-linecap="butt" />
<path d="M871.2,1901.5 L862.1,1892.8 L851.3,1903.1 L861.1,1912.7" stroke="#000" stroke-width="2.8" fill="#fff" stroke-linejoin="round" stroke-linecap="butt" />
<line x1="873.2" y1="1899.3" x2="860.3" y2="1913.6" stroke="#000" stroke-width="7" stroke-linecap="butt" />
<path d="M1143.5,1819.8 L1165.8,1826.5 L1157.5,1854.9 L1134.5,1844.4" fill="#fff" stroke="#000" stroke-width="6.4" stroke-linejoin="round"/>
<rect x="-7" y="-22" width="14" height="44" rx="3.5" fill="#000" transform="translate(821.8,1717.4) rotate(18)"/>
<circle cx="983.6" cy="1776.7" r="167.0" stroke="#000" stroke-width="7" fill="#fff" />
<circle cx="983.6" cy="1776.7" r="153.2" stroke="#000" stroke-width="7" fill="#345a2b" />
<line x1="817.2" y1="1715.3" x2="828.5" y2="1719.8" stroke="#999" stroke-width="1.5" stroke-linecap="butt" />
<line x1="977.6" y1="1631.0" x2="989.6" y2="1631.0" stroke="#000" stroke-width="1.6" stroke-linecap="butt" />
<line x1="977.6" y1="1920.5" x2="989.6" y2="1920.5" stroke="#000" stroke-width="1.6" stroke-linecap="butt" />
<line x1="606.8" y1="1495.5" x2="606.8" y2="2056.3" stroke="#b4ecaa" stroke-width="1.1" stroke-linecap="butt" />
<line x1="584.0" y1="1495.5" x2="655.4" y2="1495.5" stroke="#b4ecaa" stroke-width="1.1" stroke-linecap="butt" />
<line x1="655.4" y1="1496.2" x2="701.0" y2="1496.2" stroke="#12240c" stroke-width="2.0" stroke-linecap="butt" />
<line x1="584.0" y1="2056.3" x2="696.0" y2="2056.3" stroke="#b4ecaa" stroke-width="1.1" stroke-linecap="butt" />
<path d="M606.8,1495.5 L611.8,1525.5 L601.8,1525.5 Z" fill="#33dd11"/>
<path d="M606.8,2056.3 L601.8,2026.3 L611.8,2026.3 Z" fill="#33dd11"/>
<text transform="translate(595.5,1806.3) rotate(-90)" x="0" y="0" font-family="Liberation Sans" font-size="43.3" fill="#e4f8e0" textLength="61.0" lengthAdjust="spacingAndGlyphs">1900</text>
<line x1="702.0" y1="2060.0" x2="702.0" y2="2184.5" stroke="#b4ecaa" stroke-width="1.1" stroke-linecap="butt" />
<line x1="1263.6" y1="2060.0" x2="1263.6" y2="2184.5" stroke="#b4ecaa" stroke-width="1.1" stroke-linecap="butt" />
<line x1="702.0" y1="2160.8" x2="1263.6" y2="2160.8" stroke="#b4ecaa" stroke-width="1.1" stroke-linecap="butt" />
<path d="M702.0,2160.8 L732.0,2155.8 L732.0,2165.8 Z" fill="#33dd11"/>
<path d="M1263.6,2160.8 L1233.6,2165.8 L1233.6,2155.8 Z" fill="#33dd11"/>
<text x="953.7" y="2148.0" font-family="Liberation Sans" font-size="41.2" font-weight="normal" font-style="normal" fill="#e4f8e0" textLength="61.6" lengthAdjust="spacingAndGlyphs" >1900</text>
<line x1="985.7" y1="2200.0" x2="985.7" y2="2295.3" stroke="#e2441c" stroke-width="3.2" stroke-linecap="round" />
<path d="M985.7,2182.5 L992.0,2218.0 L979.5,2218.0 Z" fill="#e2441c"/>
<text x="1000.5" y="2277.9" font-family="Liberation Sans" font-size="58.7" font-weight="normal" font-style="normal" fill="#e2441c" stroke="#fff" stroke-width="1.6" stroke-linejoin="round" textLength="28.1" lengthAdjust="spacingAndGlyphs" >А</text>
<text x="864.0" y="1429.0" font-family="Liberation Sans" font-size="60.8" font-weight="normal" font-style="normal" fill="#000" stroke="#fff" stroke-width="1.7" stroke-linejoin="round" textLength="236.5" lengthAdjust="spacingAndGlyphs" >Вид сверху</text>
<path d="M348.8,1607.7 L551.6,1607.7 L816.5,1715.7" stroke="#0c40ff" stroke-width="3.5" fill="none" stroke-linejoin="miter" stroke-linecap="butt" />
<text x="368.6" y="1597.2" font-family="Liberation Sans" font-size="44.0" font-weight="normal" font-style="normal" fill="#0c40ff" stroke="#0c40ff" stroke-width="0.5" stroke-linejoin="round" textLength="164.8" lengthAdjust="spacingAndGlyphs" >Вход стоков</text>
<text x="369.7" y="1651.0" font-family="Liberation Sans" font-size="44.0" font-weight="normal" font-style="normal" fill="#0c40ff" stroke="#0c40ff" stroke-width="0.5" stroke-linejoin="round" textLength="163.1" lengthAdjust="spacingAndGlyphs" >(труба ø110)</text>
<circle cx="1192.6" cy="1589.8" r="8.7" stroke="none" stroke-width="0" fill="#0c40ff" />
<path d="M1192.6,1589.8 L1340.9,1534.6 L1505.0,1534.6" stroke="#0c40ff" stroke-width="3.5" fill="none" stroke-linejoin="miter" stroke-linecap="butt" />
<text x="1358.5" y="1525.0" font-family="Liberation Sans" font-size="44.0" font-weight="normal" font-style="normal" fill="#0c40ff" stroke="#0c40ff" stroke-width="0.5" stroke-linejoin="round" textLength="126.9" lengthAdjust="spacingAndGlyphs" >Песчаная</text>
<text x="1358.5" y="1576.5" font-family="Liberation Sans" font-size="44.0" font-weight="normal" font-style="normal" fill="#0c40ff" stroke="#0c40ff" stroke-width="0.5" stroke-linejoin="round" textLength="124.8" lengthAdjust="spacingAndGlyphs" >подсыпка</text>
<circle cx="1065.0" cy="1772.5" r="8.7" stroke="none" stroke-width="0" fill="#0c40ff" />
<path d="M1065.0,1772.5 L1340.9,1650.6 L1479.0,1650.6" stroke="#0c40ff" stroke-width="3.5" fill="none" stroke-linejoin="miter" stroke-linecap="butt" />
<text x="1358.5" y="1640.0" font-family="Liberation Sans" font-size="44.0" font-weight="normal" font-style="normal" fill="#0c40ff" stroke="#0c40ff" stroke-width="0.5" stroke-linejoin="round" textLength="100.5" lengthAdjust="spacingAndGlyphs" >Крышка</text>
<path d="M1239.0,1826.3 L1340.9,1877.8 L1747.3,1877.8" stroke="#0c40ff" stroke-width="3.5" fill="none" stroke-linejoin="miter" stroke-linecap="butt" />
<text x="1358.5" y="1867.2" font-family="Liberation Sans" font-size="44.0" font-weight="normal" font-style="normal" fill="#0c40ff" stroke="#0c40ff" stroke-width="0.5" stroke-linejoin="round" textLength="368.5" lengthAdjust="spacingAndGlyphs" >Брус 100х100 (уст. по месту</text>
<text x="1395.4" y="1919.6" font-family="Liberation Sans" font-size="44.0" font-weight="normal" font-style="normal" fill="#0c40ff" stroke="#0c40ff" stroke-width="0.5" stroke-linejoin="round" textLength="295.3" lengthAdjust="spacingAndGlyphs" >в зависим. от грунта)</text>
<path d="M1153.7,1845.5 L1340.9,2048.8 L1644.6,2048.8" stroke="#0c40ff" stroke-width="3.5" fill="none" stroke-linejoin="miter" stroke-linecap="butt" />
<text x="1374.4" y="2037.3" font-family="Liberation Sans" font-size="44.0" font-weight="normal" font-style="normal" fill="#0c40ff" stroke="#0c40ff" stroke-width="0.5" stroke-linejoin="round" textLength="234.6" lengthAdjust="spacingAndGlyphs" >Выход очищенных</text>
<text x="1358.5" y="2091.3" font-family="Liberation Sans" font-size="44.0" font-weight="normal" font-style="normal" fill="#0c40ff" stroke="#0c40ff" stroke-width="0.5" stroke-linejoin="round" textLength="266.0" lengthAdjust="spacingAndGlyphs" >стоков (труба ø110)</text>
<text x="2388.7" y="258.4" font-family="Liberation Serif" font-size="44.8" fill="#000" textLength="512.2" lengthAdjust="spacingAndGlyphs">Схема расположения камер</text>
<path d="M2687.4,357.3 A393.5,393.5 0 0 0 2279.7,575.9" fill="none" stroke="#b4ecaa" stroke-width="1.4"/>
<line x1="2687.4" y1="357.3" x2="2659.2" y2="347.2" stroke="#b4ecaa" stroke-width="1.3" stroke-linecap="butt" />
<line x1="2687.4" y1="357.3" x2="2657.4" y2="356.4" stroke="#b4ecaa" stroke-width="1.3" stroke-linecap="butt" />
<line x1="2279.7" y1="575.9" x2="2295.5" y2="550.4" stroke="#b4ecaa" stroke-width="1.3" stroke-linecap="butt" />
<line x1="2279.7" y1="575.9" x2="2286.9" y2="546.8" stroke="#b4ecaa" stroke-width="1.3" stroke-linecap="butt" />
<path id="arcT1" d="M2325.7,447.4 A430,430 0 0 1 2552.7,325.0" fill="none"/>
<path id="arcT2" d="M2383.7,484.3 A363,363 0 0 1 2549.3,394.2" fill="none"/>
<text font-family="Liberation Sans" font-style="italic" font-size="42" fill="#e4f8e0"><textPath href="#arcT1" textLength="261" lengthAdjust="spacingAndGlyphs">Диапазон врезки</textPath></text>
<text font-family="Liberation Sans" font-style="italic" font-size="42" fill="#e4f8e0"><textPath href="#arcT2" textLength="190" lengthAdjust="spacingAndGlyphs">входа стока</textPath></text>
<path d="M2850.4,557.1 L2878.5,532.4 A325.5,325.5 0 0 0 2389.5,532.4 L2417.6,557.1" fill="#fff" stroke="#000" stroke-width="2.4"/>
<path d="M2849.0,938.8 L2877.6,964.3 A326.3,326.3 0 0 1 2390.4,964.3 L2419.0,938.8" fill="#fff" stroke="#000" stroke-width="2.4"/>
<path d="M2916,814.6 L2973.4,836.6 L2948.6,899.6 L2892,877.2" fill="#fff" stroke="#000" stroke-width="6.8" stroke-linejoin="miter"/>
<path d="M2912.2,831.2 L2941.3,842.3 L2929.8,874.1 L2900.7,862" fill="none" stroke="#000" stroke-width="3" stroke-dasharray="9 4.5"/>
<path d="M2372.3,803 L2412.2,791.4 L2424,833.2 L2384.2,845 Z" fill="#fff" stroke="#000" stroke-width="3.4"/>
<path d="M2339.3,825.5 L2373.7,815.8 L2378.6,834.6 L2344.6,844.8 Z" fill="#fff" stroke="#000" stroke-width="3.4"/>
<rect x="2683.6" y="474.2" width="17.0" height="163.8" stroke="none" stroke-width="0" fill="#000" />
<g stroke="#fff" stroke-width="2.1" stroke-linecap="butt">
<line x1="2690.0" y1="484.4" x2="2694.0" y2="479.2"/>
<line x1="2690.0" y1="490.9" x2="2694.0" y2="485.7"/>
<line x1="2690.0" y1="497.4" x2="2694.0" y2="492.2"/>
<line x1="2690.0" y1="503.9" x2="2694.0" y2="498.7"/>
<line x1="2690.0" y1="510.4" x2="2694.0" y2="505.2"/>
<line x1="2690.0" y1="516.9" x2="2694.0" y2="511.7"/>
<line x1="2690.0" y1="523.4" x2="2694.0" y2="518.2"/>
<line x1="2690.0" y1="529.9" x2="2694.0" y2="524.7"/>
<line x1="2690.0" y1="536.4" x2="2694.0" y2="531.2"/>
<line x1="2690.0" y1="542.9" x2="2694.0" y2="537.7"/>
<line x1="2690.0" y1="549.4" x2="2694.0" y2="544.2"/>
<line x1="2690.0" y1="555.9" x2="2694.0" y2="550.7"/>
<line x1="2690.0" y1="562.4" x2="2694.0" y2="557.2"/>
<line x1="2690.0" y1="568.9" x2="2694.0" y2="563.7"/>
<line x1="2690.0" y1="575.4" x2="2694.0" y2="570.2"/>
<line x1="2690.0" y1="581.9" x2="2694.0" y2="576.7"/>
<line x1="2690.0" y1="588.4" x2="2694.0" y2="583.2"/>
<line x1="2690.0" y1="594.9" x2="2694.0" y2="589.7"/>
<line x1="2690.0" y1="601.4" x2="2694.0" y2="596.2"/>
<line x1="2690.0" y1="607.9" x2="2694.0" y2="602.7"/>
<line x1="2690.0" y1="614.4" x2="2694.0" y2="609.2"/>
<line x1="2690.0" y1="620.9" x2="2694.0" y2="615.7"/>
<line x1="2690.0" y1="627.4" x2="2694.0" y2="622.2"/>
<line x1="2690.0" y1="633.9" x2="2694.0" y2="628.7"/>
</g>
<line x1="2687.0" y1="858.0" x2="2687.0" y2="1020.2" stroke="#000" stroke-width="7" stroke-linecap="butt" />
<line x1="2697.3" y1="858.0" x2="2697.3" y2="1020.2" stroke="#000" stroke-width="7.3" stroke-linecap="butt" />
<line x1="2354.8" y1="744.2" x2="2645.0" y2="744.2" stroke="#000" stroke-width="6.4" stroke-linecap="butt" />
<line x1="2354.8" y1="753.0" x2="2645.0" y2="753.0" stroke="#000" stroke-width="6.4" stroke-linecap="butt" />
<line x1="2373.0" y1="644.8" x2="2465.0" y2="741.0" stroke="#000" stroke-width="5.6" stroke-linecap="butt" />
<line x1="2376.0" y1="648.0" x2="2463.5" y2="739.4" stroke="#fff" stroke-width="0.9" stroke-linecap="butt" />
<line x1="2643.0" y1="643.0" x2="2894.0" y2="643.0" stroke="#000" stroke-width="12.5" stroke-linecap="butt" />
<line x1="2649.2" y1="636.8" x2="2649.2" y2="860.5" stroke="#000" stroke-width="12.6" stroke-linecap="butt" />
<line x1="2643.0" y1="853.5" x2="2892.9" y2="853.5" stroke="#000" stroke-width="14.0" stroke-linecap="butt" />
<line x1="2656.0" y1="853.4" x2="2888.9" y2="853.4" stroke="#999" stroke-width="0.7" stroke-linecap="butt" />
<circle cx="2634.0" cy="747.2" r="283.1" stroke="#000" stroke-width="13.800000000000011" fill="none" />
<circle cx="2634.0" cy="747.2" r="282.3" stroke="#d8d8d8" stroke-width="0.7" fill="none" />
<rect x="2908" y="738.6" width="16.5" height="19.8" rx="2.5" fill="#000"/>
<rect x="2922" y="741.2" width="21.4" height="14.6" rx="1.5" fill="#fff" stroke="#000" stroke-width="5.2"/>
<line x1="2690.0" y1="340.3" x2="2651.7" y2="616.2" stroke="#a5363a" stroke-width="3.2" stroke-linecap="round" />
<line x1="2263.2" y1="568.5" x2="2514.8" y2="690.5" stroke="#a5363a" stroke-width="3.2" stroke-linecap="round" />
<circle cx="2496.6" cy="619.6" r="8.7" stroke="none" stroke-width="0" fill="#0c40ff" />
<path d="M2024.0,507.5 L2265.6,507.5 L2496.6,619.6" stroke="#0c40ff" stroke-width="3.5" fill="none" stroke-linejoin="miter" stroke-linecap="butt" />
<text x="2043.7" y="498.6" font-family="Liberation Sans" font-size="43.3" font-weight="normal" font-style="normal" fill="#0c40ff" stroke="#0c40ff" stroke-width="0.5" stroke-linejoin="round" textLength="202.2" lengthAdjust="spacingAndGlyphs" >Камера приема</text>
<text x="2154.6" y="550.4" font-family="Liberation Sans" font-size="43.3" font-weight="normal" font-style="normal" fill="#0c40ff" stroke="#0c40ff" stroke-width="0.5" stroke-linejoin="round" textLength="91.3" lengthAdjust="spacingAndGlyphs" >стоков</text>
<path d="M2056.0,870.0 L2211.3,870.0 L2343.2,834.7" stroke="#0c40ff" stroke-width="3.5" fill="none" stroke-linejoin="miter" stroke-linecap="butt" />
<text x="2075.7" y="859.6" font-family="Liberation Sans" font-size="43.3" font-weight="normal" font-style="normal" fill="#0c40ff" stroke="#0c40ff" stroke-width="0.5" stroke-linejoin="round" textLength="117.3" lengthAdjust="spacingAndGlyphs" >Сбросной</text>
<text x="2098.0" y="912.8" font-family="Liberation Sans" font-size="43.3" font-weight="normal" font-style="normal" fill="#0c40ff" stroke="#0c40ff" stroke-width="0.5" stroke-linejoin="round" textLength="95.0" lengthAdjust="spacingAndGlyphs" >клапан</text>
<circle cx="2472.0" cy="848.8" r="8.7" stroke="none" stroke-width="0" fill="#0c40ff" />
<path d="M2111.7,1010.0 L2281.4,1010.0 L2472.0,848.8" stroke="#0c40ff" stroke-width="3.5" fill="none" stroke-linejoin="miter" stroke-linecap="butt" />
<text x="2132.4" y="998.0" font-family="Liberation Sans" font-size="43.3" font-weight="normal" font-style="normal" fill="#0c40ff" stroke="#0c40ff" stroke-width="0.5" stroke-linejoin="round" textLength="129.2" lengthAdjust="spacingAndGlyphs" >Аэротенк</text>
<circle cx="2512.0" cy="1029.5" r="8.7" stroke="none" stroke-width="0" fill="#0c40ff" />
<path d="M2154.6,1120.0 L2399.7,1120.0 L2512.0,1029.5" stroke="#0c40ff" stroke-width="3.5" fill="none" stroke-linejoin="miter" stroke-linecap="butt" />
<text x="2174.4" y="1107.6" font-family="Liberation Sans" font-size="43.3" font-weight="normal" font-style="normal" fill="#0c40ff" stroke="#0c40ff" stroke-width="0.5" stroke-linejoin="round" textLength="205.6" lengthAdjust="spacingAndGlyphs" >Ребро усиления</text>
<text x="2274.5" y="1161.8" font-family="Liberation Sans" font-size="43.3" font-weight="normal" font-style="normal" fill="#0c40ff" stroke="#0c40ff" stroke-width="0.5" stroke-linejoin="round" textLength="105.5" lengthAdjust="spacingAndGlyphs" >корпуса</text>
<circle cx="2749.3" cy="460.5" r="8.7" stroke="none" stroke-width="0" fill="#0c40ff" />
<path d="M2749.3,460.5 L2827.9,353.7 L3072.8,353.7" stroke="#0c40ff" stroke-width="3.5" fill="none" stroke-linejoin="miter" stroke-linecap="butt" />
<text x="2846.0" y="344.3" font-family="Liberation Sans" font-size="43.3" font-weight="normal" font-style="normal" fill="#0c40ff" stroke="#0c40ff" stroke-width="0.5" stroke-linejoin="round" textLength="207.4" lengthAdjust="spacingAndGlyphs" >Ребро усиления</text>
<text x="2846.0" y="397.0" font-family="Liberation Sans" font-size="43.3" font-weight="normal" font-style="normal" fill="#0c40ff" stroke="#0c40ff" stroke-width="0.5" stroke-linejoin="round" textLength="105.4" lengthAdjust="spacingAndGlyphs" >корпуса</text>
<circle cx="2784.8" cy="601.0" r="8.7" stroke="none" stroke-width="0" fill="#0c40ff" />
<path d="M2784.8,601.0 L2988.5,492.9 L3292.4,492.9" stroke="#0c40ff" stroke-width="3.5" fill="none" stroke-linejoin="miter" stroke-linecap="butt" />
<text x="3008.0" y="483.0" font-family="Liberation Sans" font-size="43.3" font-weight="normal" font-style="normal" fill="#0c40ff" stroke="#0c40ff" stroke-width="0.5" stroke-linejoin="round" textLength="266.0" lengthAdjust="spacingAndGlyphs" >Камера накопления</text>
<text x="3008.0" y="535.6" font-family="Liberation Sans" font-size="43.3" font-weight="normal" font-style="normal" fill="#0c40ff" stroke="#0c40ff" stroke-width="0.5" stroke-linejoin="round" textLength="47.0" lengthAdjust="spacingAndGlyphs" >ила</text>
<circle cx="2826.5" cy="710.2" r="8.7" stroke="none" stroke-width="0" fill="#0c40ff" />
<path d="M2826.5,710.2 L3059.0,641.0 L3297.4,641.0" stroke="#0c40ff" stroke-width="3.5" fill="none" stroke-linejoin="miter" stroke-linecap="butt" />
<text x="3077.3" y="629.9" font-family="Liberation Sans" font-size="43.3" font-weight="normal" font-style="normal" fill="#0c40ff" stroke="#0c40ff" stroke-width="0.5" stroke-linejoin="round" textLength="200.7" lengthAdjust="spacingAndGlyphs" >Компрессорный</text>
<text x="3077.3" y="681.4" font-family="Liberation Sans" font-size="43.3" font-weight="normal" font-style="normal" fill="#0c40ff" stroke="#0c40ff" stroke-width="0.5" stroke-linejoin="round" textLength="77.6" lengthAdjust="spacingAndGlyphs" >отсек</text>
<circle cx="2942.5" cy="747.8" r="2.6" stroke="none" stroke-width="0" fill="#0c40ff" />
<path d="M2942.5,747.8 L3071.7,765.7 L3239.7,765.7" stroke="#0c40ff" stroke-width="3.6" fill="none" stroke-linejoin="miter" stroke-linecap="butt" />
<text x="3092.2" y="754.6" font-family="Liberation Sans" font-size="43.3" font-weight="normal" font-style="normal" fill="#0c40ff" stroke="#0c40ff" stroke-width="0.5" stroke-linejoin="round" textLength="59.8" lengthAdjust="spacingAndGlyphs" >Ввод</text>
<text x="3092.2" y="807.3" font-family="Liberation Sans" font-size="43.3" font-weight="normal" font-style="normal" fill="#0c40ff" stroke="#0c40ff" stroke-width="0.5" stroke-linejoin="round" textLength="129.2" lengthAdjust="spacingAndGlyphs" >эл.кабеля</text>
<circle cx="2959.4" cy="873.8" r="8.7" stroke="none" stroke-width="0" fill="#0c40ff" />
<path d="M2959.4,873.8 L3044.0,901.6 L3348.0,901.6" stroke="#0c40ff" stroke-width="3.5" fill="none" stroke-linejoin="miter" stroke-linecap="butt" />
<text x="3079.0" y="891.6" font-family="Liberation Sans" font-size="43.3" font-weight="normal" font-style="normal" fill="#0c40ff" stroke="#0c40ff" stroke-width="0.5" stroke-linejoin="round" textLength="234.0" lengthAdjust="spacingAndGlyphs" >Выход очищенных</text>
<text x="3063.4" y="944.8" font-family="Liberation Sans" font-size="43.3" font-weight="normal" font-style="normal" fill="#0c40ff" stroke="#0c40ff" stroke-width="0.5" stroke-linejoin="round" textLength="266.2" lengthAdjust="spacingAndGlyphs" >стоков (труба ø110)</text>
<circle cx="2790.0" cy="903.8" r="8.7" stroke="none" stroke-width="0" fill="#0c40ff" />
<path d="M2790.0,903.8 L2945.3,1058.6 L3126.0,1058.6" stroke="#0c40ff" stroke-width="3.5" fill="none" stroke-linejoin="miter" stroke-linecap="butt" />
<text x="2963.6" y="1047.4" font-family="Liberation Sans" font-size="43.3" font-weight="normal" font-style="normal" fill="#0c40ff" stroke="#0c40ff" stroke-width="0.5" stroke-linejoin="round" textLength="144.2" lengthAdjust="spacingAndGlyphs" >Вторичный</text>
<text x="2963.6" y="1099.5" font-family="Liberation Sans" font-size="43.3" font-weight="normal" font-style="normal" fill="#0c40ff" stroke="#0c40ff" stroke-width="0.5" stroke-linejoin="round" textLength="141.4" lengthAdjust="spacingAndGlyphs" >отстойник</text>
</svg>
</body></html>
